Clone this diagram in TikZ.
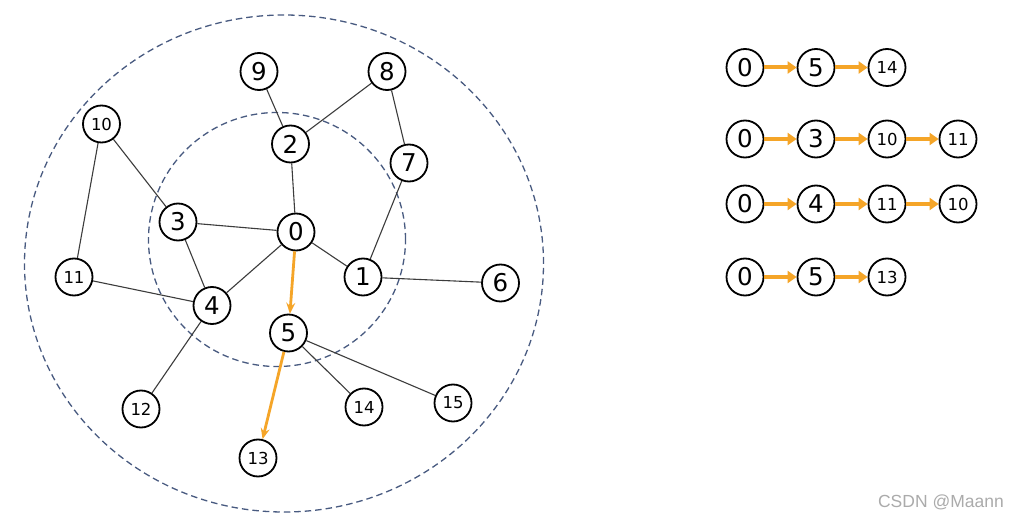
\documentclass[tikz,border=0pt]{standalone}
\usepackage{fontspec}
\setmainfont{DejaVu Sans}
\newfontfamily\wmfont{Liberation Sans}
\usetikzlibrary{arrows.meta}
\definecolor{ringblue}{RGB}{72,90,128}
\definecolor{pathorange}{RGB}{245,165,40}
\definecolor{edgegray}{RGB}{60,60,60}
\tikzset{
  vbig/.style={circle,draw=black,line width=1.8pt,minimum size=37pt,inner sep=0pt,fill=white,font=\fontsize{24.5}{24.5}\selectfont},
  vsmall/.style={circle,draw=black,line width=1.8pt,minimum size=37pt,inner sep=0pt,fill=white,font=\fontsize{16.5}{16.5}\selectfont},
  ring/.style={draw=ringblue,line width=1.3pt,dash pattern=on 6.5pt off 4pt},
  edge/.style={draw=edgegray,line width=1.1pt},
  hop/.style={draw=pathorange,line width=2.8pt,-{Stealth[length=11pt,width=9pt,inset=4pt]}},
  chain/.style={draw=pathorange,line width=4pt,-{Triangle[length=9pt,width=12pt]}},
}
\begin{document}
\begin{tikzpicture}[x=1pt,y=-1pt]
\fill[white] (0,0) rectangle (1011,521);
\useasboundingbox (0,0) rectangle (1011,521);
% rings
\draw[ring] (284,263.5) ellipse [x radius=259.5pt, y radius=248.5pt];
\draw[ring] (277,239.5) ellipse [x radius=128.5pt, y radius=127pt];
% graph nodes
\node[vbig] (n0) at (296,232) {0};
\node[vbig] (n1) at (363,277) {1};
\node[vbig] (n2) at (290.5,144) {2};
\node[vbig] (n3) at (178,222) {3};
\node[vbig] (n4) at (212,305.5) {4};
\node[vbig] (n5) at (288.5,333) {5};
\node[vbig] (n6) at (500.5,283) {6};
\node[vbig] (n7) at (409,163) {7};
\node[vbig] (n8) at (387,71.5) {8};
\node[vbig] (n9) at (259,71.5) {9};
\node[vsmall] (n10) at (101.5,124) {10};
\node[vsmall] (n11) at (74,277) {11};
\node[vsmall] (n12) at (141,409) {12};
\node[vsmall] (n13) at (258,458) {13};
\node[vsmall] (n14) at (364,407) {14};
\node[vsmall] (n15) at (453,403) {15};
% edges
\path[edge] (n9) -- (n2);
\path[edge] (n8) -- (n2);
\path[edge] (n8) -- (n7);
\path[edge] (n2) -- (n0);
\path[edge] (n7) -- (n1);
\path[edge] (n10) -- (n3);
\path[edge] (n10) -- (n11);
\path[edge] (n3) -- (n0);
\path[edge] (n3) -- (n4);
\path[edge] (n0) -- (n4);
\path[edge] (n0) -- (n1);
\path[edge] (n1) -- (n6);
\path[edge] (n11) -- (n4);
\path[edge] (n4) -- (n12);
\path[edge] (n5) -- (n14);
\path[edge] (n5) -- (n15);
\path[hop] (n0) -- (n5);
\path[hop] (n5) -- (n13);
% chains
\node[vbig] (a0) at (745,67.5) {0};
\node[vbig] (a1) at (816,67.5) {5};
\node[vsmall] (a2) at (887,67.5) {14};
\node[vbig] (b0) at (745,139) {0};
\node[vbig] (b1) at (816,139) {3};
\node[vsmall] (b2) at (887,139) {10};
\node[vsmall] (b3) at (958,139) {11};
\node[vbig] (c0) at (745,204) {0};
\node[vbig] (c1) at (816,204) {4};
\node[vsmall] (c2) at (887,204) {11};
\node[vsmall] (c3) at (958,204) {10};
\node[vbig] (d0) at (745,277) {0};
\node[vbig] (d1) at (816,277) {5};
\node[vsmall] (d2) at (887,277) {13};
\path[chain] (a0) -- (a1);
\path[chain] (a1) -- (a2);
\path[chain] (b0) -- (b1);
\path[chain] (b1) -- (b2);
\path[chain] (b2) -- (b3);
\path[chain] (c0) -- (c1);
\path[chain] (c1) -- (c2);
\path[chain] (c2) -- (c3);
\path[chain] (d0) -- (d1);
\path[chain] (d1) -- (d2);
% watermark
\node[anchor=east,text=black!33,font=\wmfont\fontsize{17.5}{17.5}\selectfont,inner sep=0pt] (wm) at (1004,502) {CSDN @Maann};
\end{tikzpicture}
\end{document}
